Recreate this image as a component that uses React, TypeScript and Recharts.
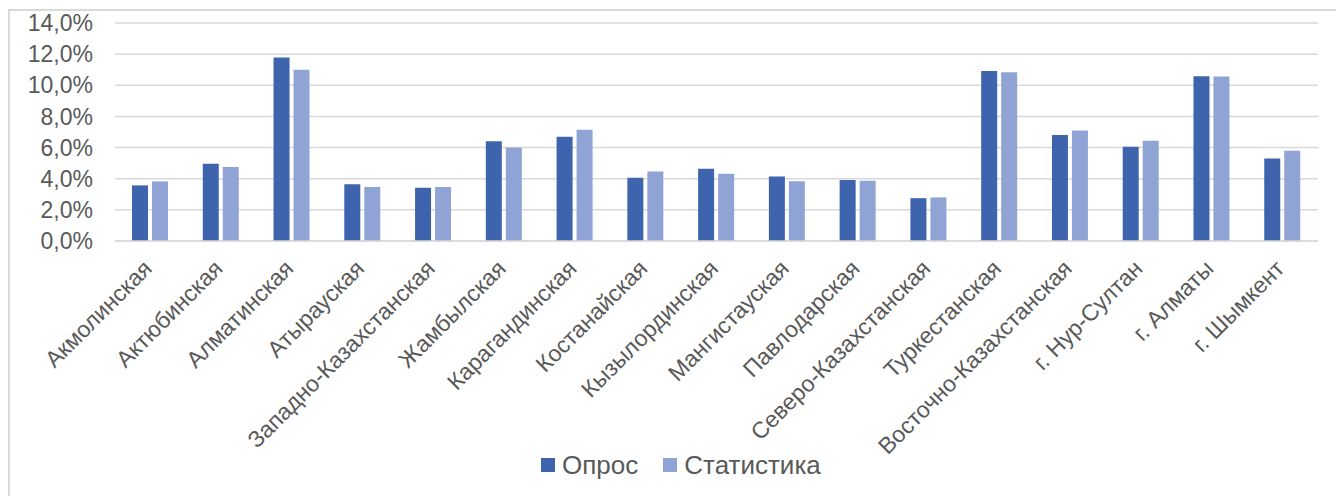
import { Bar, BarChart, CartesianGrid, Legend, XAxis, YAxis } from "recharts"

const regions = [
  "Акмолинская",
  "Актюбинская",
  "Алматинская",
  "Атырауская",
  "Западно-Казахстанская",
  "Жамбылская",
  "Карагандинская",
  "Костанайская",
  "Кызылординская",
  "Мангистауская",
  "Павлодарская",
  "Северо-Казахстанская",
  "Туркестанская",
  "Восточно-Казахстанская",
  "г. Нур-Султан",
  "г. Алматы",
  "г. Шымкент",
]

// % of respondents
const survey = [3.57, 4.96, 11.78, 3.65, 3.42, 6.4, 6.7, 4.06, 4.64, 4.15, 3.91, 2.75, 10.92, 6.8, 6.06, 10.58, 5.3]
const statistics = [3.83, 4.75, 11.0, 3.46, 3.46, 6.01, 7.15, 4.47, 4.32, 3.83, 3.87, 2.8, 10.84, 7.1, 6.44, 10.56, 5.8]

const yTicks = [0, 2, 4, 6, 8, 10, 12, 14]

const seriesNames = { survey: "Опрос", statistics: "Статистика" }

const DARK = "#3d64ad"
const LIGHT = "#8fa4d4"
const TEXT = "#595959"
const GRID = "#d9d9d9"
const FONT = '"Liberation Sans", Arial, sans-serif'

const data = regions.map((region, i) => ({
  region,
  survey: survey[i],
  statistics: statistics[i],
}))

const fmtPct = (v: number) => v.toFixed(1).replace(".", ",") + "%"

function RotatedTick({ x, y, payload }: any) {
  const ax = x + 3
  const ay = y + 29
  return (
    <text
      x={ax}
      y={ay}
      textAnchor="end"
      transform={`rotate(-45, ${ax}, ${ay})`}
      fill={TEXT}
      fontSize={23}
      fontFamily={FONT}
    >
      {payload.value}
    </text>
  )
}

function LegendBox() {
  const items = [
    { name: seriesNames.survey, color: DARK },
    { name: seriesNames.statistics, color: LIGHT },
  ]
  return (
    <div style={{ display: "flex", alignItems: "center", fontFamily: FONT, fontSize: 26, color: TEXT, lineHeight: "30px" }}>
      {items.map((it, i) => (
        <div key={it.name} style={{ display: "flex", alignItems: "center", marginLeft: i ? 25 : 0 }}>
          <span style={{ width: 14, height: 14, background: it.color, display: "inline-block", marginRight: 7 }} />
          <span>{it.name}</span>
        </div>
      ))}
    </div>
  )
}

export default function App() {
  return (
    <div style={{ position: "absolute", left: 0, top: 0, width: 1336, height: 496, background: "#fff", overflow: "hidden" }}>
      <div
        style={{
          position: "absolute",
          left: 8,
          top: 9,
          width: 1340,
          height: 500,
          borderTop: `2px solid ${GRID}`,
          borderLeft: `2px solid ${GRID}`,
        }}
      />
      <div style={{ position: "absolute", left: 0, top: 0 }}>
        <BarChart
          width={1336}
          height={496}
          data={data}
          margin={{ top: 23, right: 18, left: 0, bottom: 0 }}
          barSize={16}
          barGap={4}
        >
          <CartesianGrid horizontal vertical={false} stroke={GRID} strokeWidth={1.5} />
          <XAxis
            dataKey="region"
            interval={0}
            height={255}
            tickLine={false}
            tickSize={0}
            tickMargin={0}
            axisLine={{ stroke: GRID, strokeWidth: 1.5 }}
            tick={<RotatedTick />}
          />
          <YAxis
            width={115}
            domain={[0, 14]}
            ticks={yTicks}
            tickFormatter={fmtPct}
            tickLine={false}
            axisLine={false}
            tickSize={0}
            tickMargin={22}
            tick={{ fill: TEXT, fontSize: 23, fontFamily: FONT }}
          />
          <Legend
            layout="horizontal"
            verticalAlign="middle"
            align="center"
            wrapperStyle={{ top: 450, left: 541, width: "auto" }}
            content={() => <LegendBox />}
          />
          <Bar dataKey="survey" name={seriesNames.survey} fill={DARK} isAnimationActive={false} />
          <Bar dataKey="statistics" name={seriesNames.statistics} fill={LIGHT} isAnimationActive={false} />
        </BarChart>
      </div>
    </div>
  )
}
